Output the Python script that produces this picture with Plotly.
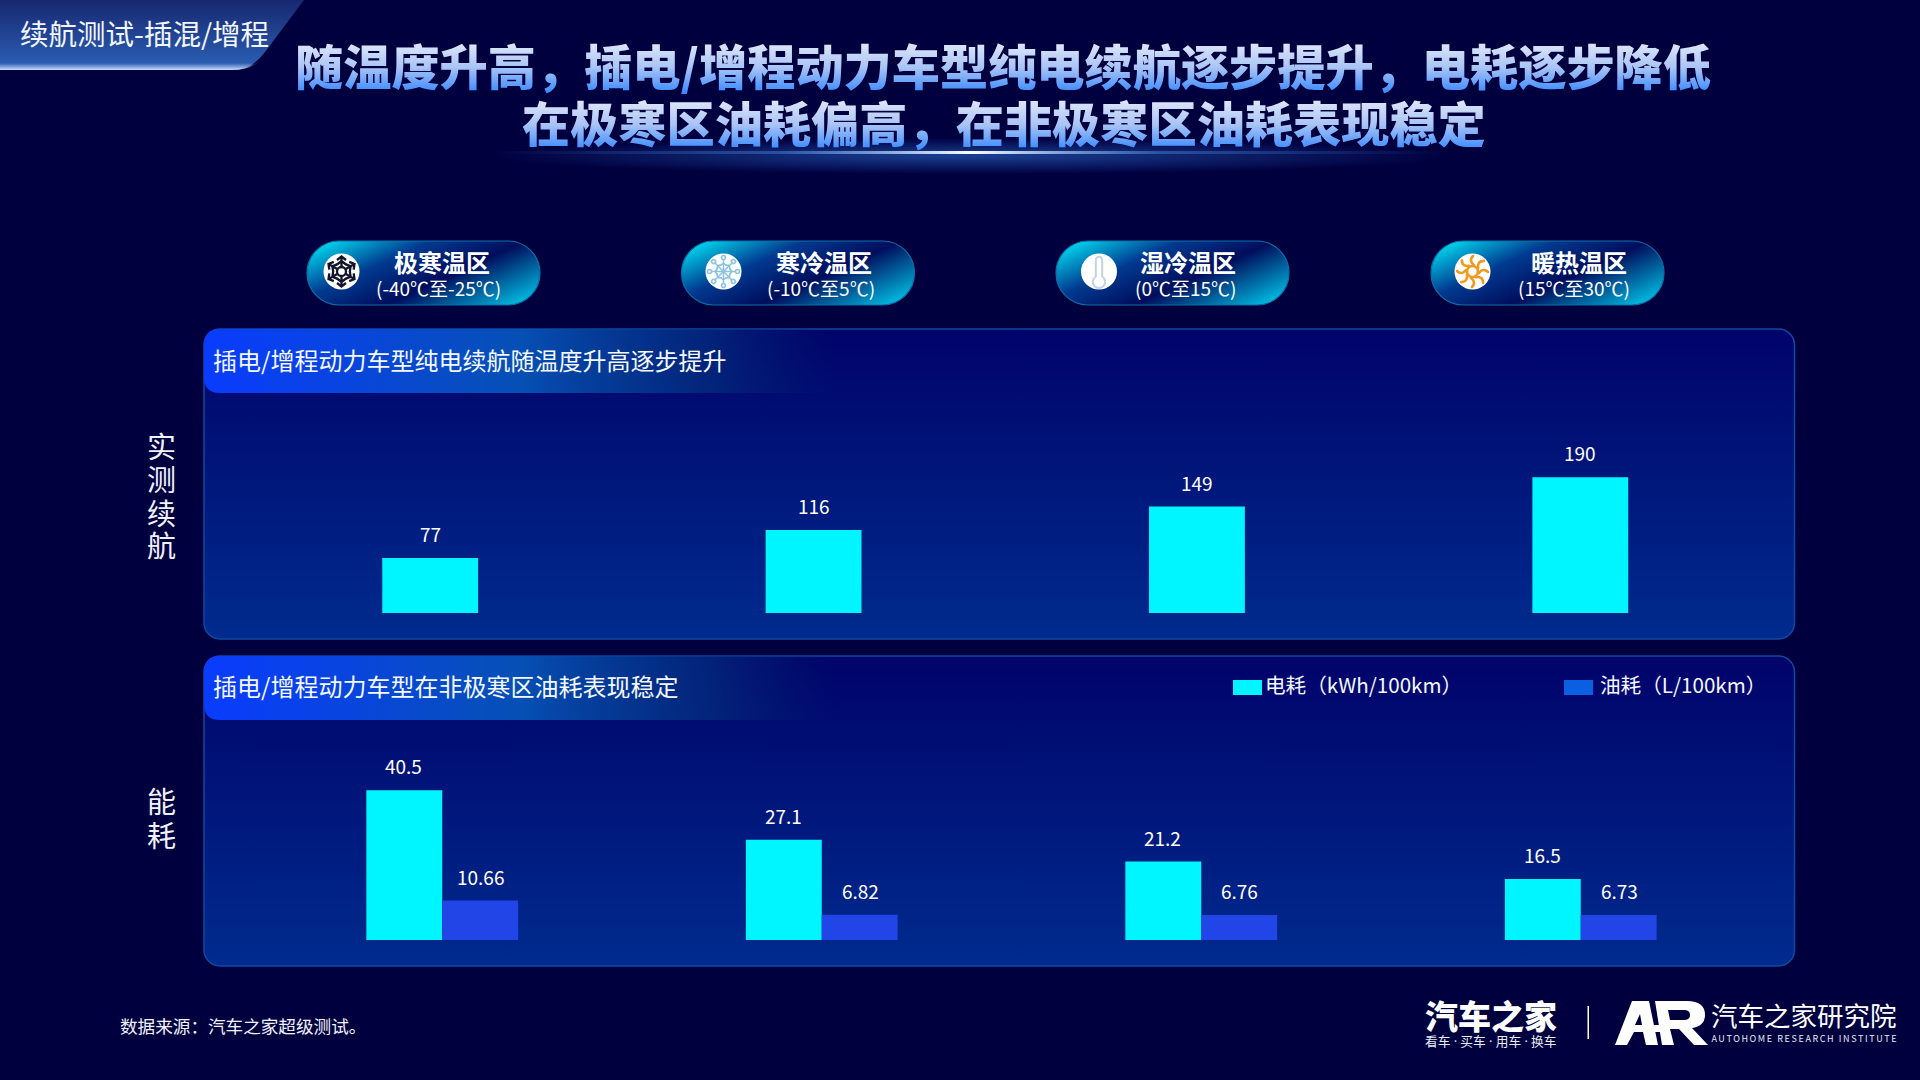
import base64
import plotly.graph_objects as go

# ---- chart data ----
zones = ['极寒温区', '寒冷温区', '湿冷温区', '暖热温区']
zone_ranges = ['(-40℃至-25℃)', '(-10℃至5℃)', '(0℃至15℃)', '(15℃至30℃)']
range_km = [77, 116, 149, 190]
power_use = [40.5, 27.1, 21.2, 16.5]
fuel_use = [10.66, 6.82, 6.76, 6.73]
power_labels = ['40.5', '27.1', '21.2', '16.5']
fuel_labels = ['10.66', '6.82', '6.76', '6.73']

title_lines = ['随温度升高，插电/增程动力车型纯电续航逐步提升，电耗逐步降低',
               '在极寒区油耗偏高，在非极寒区油耗表现稳定']
panel_titles = ['插电/增程动力车型纯电续航随温度升高逐步提升', '插电/增程动力车型在非极寒区油耗表现稳定']

W, H = 1920, 1080
CJK = 'Noto Sans CJK SC'
CYAN = '#00f6ff'
FUEL = '#2145e6'
BG = '#00003f'


def px(x):
    return x / W


def py(y):
    return 1 - y / H


def snowflake_dark(cx, cy):
    out = '<g stroke="#14142a" stroke-width="2.3" fill="none" stroke-linecap="butt">'
    for i in range(6):
        out += (f'<g transform="translate({cx} {cy}) rotate({i * 60})">'
                '<path d="M0 -5V-15M-4.5 -7L0 -10.5L4.5 -7M-4.5 -11.5L0 -15L4.5 -11.5"/></g>')
    out += f'<circle cx="{cx}" cy="{cy}" r="4.5"/>'
    return out + '</g>'


def snowflake_light(cx, cy):
    out = '<g stroke="#8cc3e2" stroke-width="1.6" fill="none">'
    for i in range(8):
        out += (f'<g transform="translate({cx} {cy}) rotate({i * 45})">'
                '<path d="M0 0V-12M-3 -6L0 -8.5L3 -6"/><circle cx="0" cy="-14" r="2"/></g>')
    return out + '</g>'


def thermometer(cx, cy):
    return (f'<g transform="translate({cx} {cy})" fill="none" stroke="#c3d3e6" stroke-width="2">'
            '<path d="M-3.2 5V-11.5A3.2 3.2 0 0 1 3.2 -11.5V5A6.2 6.2 0 1 1 -3.2 5Z"/></g>')


def sun(cx, cy):
    out = '<g fill="none" stroke="#f09a1e" stroke-width="2.6" stroke-linecap="round">'
    for i in range(8):
        out += (f'<path transform="translate({cx} {cy}) rotate({i * 45})" '
                'd="M1.5 -6.5C-1.5 -8.5 -3 -12 0.5 -15.5"/>')
    out += f'<circle cx="{cx}" cy="{cy}" r="5.5"/>'
    return out + '</g>'


def background_svg():
    s = f'<svg xmlns="http://www.w3.org/2000/svg" width="{W}" height="{H}" viewBox="0 0 {W} {H}">'
    s += '''<defs>
    <linearGradient id="panel" x1="0" y1="0" x2="0" y2="1">
      <stop offset="0" stop-color="#00036a"/><stop offset="1" stop-color="#002b8e"/></linearGradient>
    <linearGradient id="band" x1="0" y1="0" x2="1" y2="0">
      <stop offset="0" stop-color="#0a3cff"/><stop offset="0.5" stop-color="#0650b5"/>
      <stop offset="0.8" stop-color="#04307f" stop-opacity="0.7"/>
      <stop offset="1" stop-color="#04206f" stop-opacity="0"/></linearGradient>
    <linearGradient id="pill" x1="0" y1="0.2" x2="1" y2="0.8">
      <stop offset="0" stop-color="#00cbe6"/><stop offset="0.3" stop-color="#003a90"/>
      <stop offset="0.6" stop-color="#000d5c"/><stop offset="1" stop-color="#00b4dc"/></linearGradient>
    <linearGradient id="tag" x1="0" y1="0" x2="0" y2="1">
      <stop offset="0" stop-color="#17276f"/><stop offset="1" stop-color="#2d62b8"/></linearGradient>
    <linearGradient id="tagEdge" x1="0" y1="0" x2="0" y2="1">
      <stop offset="0" stop-color="#b8d4f5" stop-opacity="0"/><stop offset="1" stop-color="#c8dcf8"/></linearGradient>
    <linearGradient id="line" x1="0" y1="0" x2="1" y2="0">
      <stop offset="0" stop-color="#4f9cff" stop-opacity="0"/><stop offset="0.3" stop-color="#5aa4ff" stop-opacity="0.35"/>
      <stop offset="0.5" stop-color="#ffffff"/><stop offset="0.7" stop-color="#5aa4ff" stop-opacity="0.35"/>
      <stop offset="1" stop-color="#4f9cff" stop-opacity="0"/></linearGradient>
    <radialGradient id="glow"><stop offset="0" stop-color="#2f74d8" stop-opacity="0.55"/>
      <stop offset="1" stop-color="#2f74d8" stop-opacity="0"/></radialGradient>
    </defs>'''
    s += f'<rect width="{W}" height="{H}" fill="{BG}"/>'
    # corner tag
    s += '<path d="M0 0H304L265 52Q252 70 232 70H0Z" fill="url(#tag)"/>'
    s += '<path d="M0 63H257Q247 70 232 70H0Z" fill="url(#tagEdge)"/>'
    # light under the title
    s += '<ellipse cx="970" cy="156" rx="480" ry="18" fill="url(#glow)"/>'
    s += '<rect x="490" y="151" width="960" height="3" fill="url(#line)"/>'
    # temperature pills
    for x, y in [(307, 241), (681.5, 241), (1056, 241), (1431, 241)]:
        s += (f'<rect x="{x}" y="{y}" width="233" height="64" rx="32" fill="url(#pill)" '
              'stroke="#0a6fa8" stroke-width="1.2"/>')
    for cx in [341.5, 723.5, 1099, 1472.5]:
        s += f'<circle cx="{cx}" cy="271.5" r="18" fill="#ffffff"/>'
    s += snowflake_dark(341.5, 271.5)
    s += snowflake_light(723.5, 271.5)
    s += thermometer(1099, 271.5)
    s += sun(1472.5, 271.5)
    # panels and their header bands
    for top in [329, 656]:
        s += (f'<rect x="204" y="{top}" width="1590.5" height="310" rx="16" fill="url(#panel)" '
              'stroke="#0f4a9e" stroke-width="1.5"/>')
        s += (f'<path d="M220 {top}H835V{top + 64}H220Q204 {top + 64} 204 {top + 48}V{top + 16}'
              f'Q204 {top} 220 {top}Z" fill="url(#band)"/>')
    # logo parts
    s += '<rect x="1587.5" y="1006" width="1.5" height="33" fill="#ffffff"/>'
    s += ('<g transform="translate(1613 1001)" fill="#ffffff" fill-rule="evenodd">'
          '<path d="M2 44L19 0H36L45 44H33L30 31H21L14 44ZM27 13L22 24H29Z"/>'
          '<path d="M29 24H55L57 31H30Z"/>'
          '<path d="M42 0H74Q92 0 92 14Q92 25 79 27L95 44H81L66 28H57L61 44H49ZM55 9H71Q77 9 77 14'
          'Q77 19 71 19H57Z"/></g>')
    return s + '</svg>'


def add_text(fig, text, x, y, size, color='#ffffff', weight=400, anchor='center', family=CJK):
    fig.add_annotation(text=text, xref='paper', yref='paper', x=px(x), y=py(y), showarrow=False,
                       xanchor=anchor, yanchor='middle', borderpad=0,
                       font=dict(family=family, size=size, color=color, weight=weight))


fig = go.Figure()

fig.add_trace(go.Bar(x=zones, y=range_km, name='实测续航', width=0.25, marker=dict(color=CYAN, line_width=0),
                     xaxis='x', yaxis='y', showlegend=False))
fig.add_trace(go.Bar(x=zones, y=power_use, name='电耗（kWh/100km）', marker=dict(color=CYAN, line_width=0),
                     xaxis='x2', yaxis='y2', showlegend=False))
fig.add_trace(go.Bar(x=zones, y=fuel_use, name='油耗（L/100km）', marker=dict(color=FUEL, line_width=0),
                     xaxis='x2', yaxis='y2', showlegend=False))

# value labels sit well above the bars, further than textposition outside allows
label_font = dict(family=CJK, size=19, color='#ffffff')
for zone, value in zip(zones, range_km):
    fig.add_annotation(x=zone, y=value, xref='x', yref='y', text=str(value), showarrow=False,
                       yanchor='bottom', yshift=9, font=label_font)
for zone, value, label in zip(zones, power_use, power_labels):
    fig.add_annotation(x=zone, y=value, xref='x2', yref='y2', text=label, showarrow=False,
                       yanchor='bottom', yshift=9, xshift=-38.5, font=label_font)
for zone, value, label in zip(zones, fuel_use, fuel_labels):
    fig.add_annotation(x=zone, y=value, xref='x2', yref='y2', text=label, showarrow=False,
                       yanchor='bottom', yshift=9, xshift=38.5, font=label_font)

# titles
add_text(fig, title_lines[0], 1003, 63.5, 48.2, '#7aa8f5', 900)
add_text(fig, title_lines[1], 1004, 121, 48.2, '#7aa8f5', 900)
add_text(fig, '续航测试-插混/增程', 19, 32, 28.5, '#f2f6ff', 400, 'left')

# pills
zone_x = [441.5, 824, 1188, 1578.5]
range_x = [438, 820.5, 1185, 1574]
for zone, zr, zx, rx in zip(zones, zone_ranges, zone_x, range_x):
    add_text(fig, zone, zx, 261.5, 24, weight=700)
    add_text(fig, zr, rx, 287.5, 19)

# panel headers and side labels
add_text(fig, panel_titles[0], 211.5, 359.5, 24, '#f4f8ff', 400, 'left')
add_text(fig, panel_titles[1], 211.5, 685.5, 24, '#f4f8ff', 400, 'left')
for ch, y in zip('实测续航', [445, 478, 511.5, 543.5]):
    add_text(fig, ch, 161, y, 29, '#f0f2fa')
for ch, y in zip('能耗', [800, 834]):
    add_text(fig, ch, 161, y, 29, '#f0f2fa')

# legend drawn by hand: its swatches are a different blue than the bars
fig.add_shape(type='rect', xref='paper', yref='paper', x0=px(1233), x1=px(1262), y0=py(695), y1=py(680),
              fillcolor=CYAN, line_width=0)
fig.add_shape(type='rect', xref='paper', yref='paper', x0=px(1564), x1=px(1593), y0=py(695), y1=py(680),
              fillcolor='#0a60e0', line_width=0)
add_text(fig, '电耗（kWh/100km）', 1264, 684, 20.6, '#f4f8ff', 400, 'left')
add_text(fig, '油耗（L/100km）', 1599, 684, 20.6, '#f4f8ff', 400, 'left')

# footer
add_text(fig, '数据来源：汽车之家超级测试。', 119, 1025, 17.6, '#f0f2fa', 400, 'left')
add_text(fig, '汽车之家', 1490.5, 1014.5, 33, '#ffffff', 900)
add_text(fig, '看车 · 买车 · 用车 · 换车', 1490.5, 1041, 12.7, '#e8eaf2', family='Noto Sans, ' + CJK)
add_text(fig, '汽车之家研究院', 1804, 1014.5, 26.5, '#ffffff')
add_text(fig, 'AUTOHOME RESEARCH INSTITUTE', 1804.5, 1038, 9, '#e8eaf2')

hidden = dict(visible=False, fixedrange=True)
fig.update_layout(
    width=W, height=H, margin=dict(l=0, r=0, t=0, b=0),
    paper_bgcolor=BG, plot_bgcolor='rgba(0,0,0,0)',
    barmode='group', bargap=0.6, bargroupgap=0,
    xaxis=dict(domain=[px(238.5), px(1772)], **hidden),
    yaxis=dict(domain=[py(613), py(400)], range=[0, 298], **hidden),
    xaxis2=dict(domain=[px(252.5), px(1770.5)], anchor='y2', **hidden),
    yaxis2=dict(domain=[py(940), py(720)], range=[0, 59.5], anchor='x2', **hidden),
    images=[dict(source='data:image/svg+xml;base64,' + base64.b64encode(background_svg().encode()).decode(),
                 xref='paper', yref='paper', x=0, y=1, sizex=1, sizey=1, sizing='stretch',
                 xanchor='left', yanchor='top', layer='below')],
)

# page margin off, gradient fill on the two headline rows, tracking on the small logo line
post = '''
document.body.style.margin = '0';
document.body.style.background = '#00003f';
var svg = document.querySelector('.main-svg');
var ns = 'http://www.w3.org/2000/svg';
var defs = document.createElementNS(ns, 'defs');
defs.innerHTML = '<linearGradient id="titleGrad" x1="0" y1="0" x2="0" y2="1">' +
  '<stop offset="0.1" stop-color="#eef1fb"/><stop offset="0.55" stop-color="#a9c4f5"/>' +
  '<stop offset="0.9" stop-color="#3d8bff"/></linearGradient>';
svg.appendChild(defs);
document.querySelectorAll('.annotation-text').forEach(function (t) {
  if (t.textContent.indexOf('电耗逐步降低') >= 0 || t.textContent.indexOf('在极寒区') === 0) {
    t.style.fill = 'url(#titleGrad)';
  }
  if (t.textContent.indexOf('AUTOHOME') === 0) {
    t.style.letterSpacing = '1.6px';
  }
});
'''
fig.write_html('out.html', post_script=post, config={'displayModeBar': False})
